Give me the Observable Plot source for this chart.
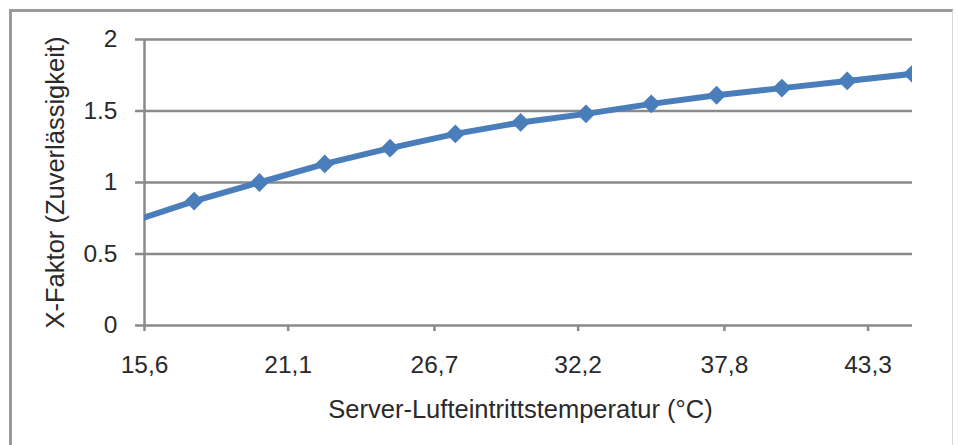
<!DOCTYPE html>
<html>
<head>
<meta charset="utf-8">
<script src="https://cdn.jsdelivr.net/npm/d3@7"></script>
<script src="https://cdn.jsdelivr.net/npm/@observablehq/plot@0.6"></script>
<style>
  html, body { margin: 0; padding: 0; background: #fff; overflow: hidden; }
  #wrap { position: relative; width: 958px; height: 445px; overflow: hidden; }
  #frame { position: absolute; left: 9px; top: 9px; width: 940px; height: 460px;
           border-left: 3px solid #9a9a9a; border-top: 3px solid #9a9a9a; border-right: 1px solid #d9d9d9; }
  #chart { position: absolute; left: 0; top: 0; }
</style>
</head>
<body>
<div id="wrap"><div id="frame"></div><div id="chart"></div></div>
<script>
// Data
const temps   = [15, 17.5, 20, 22.5, 25, 27.5, 30, 32.5, 35, 37.5, 40, 42.5, 45];
const xFactor = [0.72, 0.87, 1.00, 1.13, 1.24, 1.34, 1.42, 1.48, 1.55, 1.61, 1.66, 1.71, 1.76];
const xTicks  = [15.6, 21.1, 26.7, 32.2, 37.8, 43.3];
const yTicks  = [0, 0.5, 1, 1.5, 2];
const xTitle  = "Server-Lufteintrittstemperatur (°C)";
const yTitle  = "X-Faktor (Zuverlässigkeit)";

const data = temps.map((t, i) => ({t, f: xFactor[i]}));
const gray = "#8a8a8a";
const blue = "#4a7ebb";
const textColor = "#2a2a2a";

const chart = Plot.plot({
  width: 958,
  height: 445,
  marginLeft: 144,
  marginRight: 46,
  marginTop: 39,
  marginBottom: 120,
  style: {fontFamily: "'Liberation Sans', Arial, sans-serif", fontSize: "24.5px", color: textColor, background: "transparent"},
  x: {domain: [15.6, 45], ticks: xTicks},
  y: {domain: [0, 2], ticks: yTicks},
  marks: [
    Plot.ruleY(yTicks, {stroke: gray, strokeWidth: 2.5, strokeOpacity: 1}),
    Plot.axisY({ticks: yTicks, tickSize: 9, tickPadding: 18, stroke: gray, strokeWidth: 2.5, strokeOpacity: 1,
                tickFormat: d => String(d), label: null, fill: textColor, fontSize: 24.5}),
    Plot.axisX({ticks: xTicks, tickSize: 6, tickPadding: 24, stroke: gray, strokeWidth: 2.5, strokeOpacity: 1,
                tickFormat: d => d.toFixed(1).replace(".", ","), label: null, fill: textColor, fontSize: 24.5}),
    Plot.ruleX([15.6], {y1: 0, y2: 2, stroke: gray, strokeWidth: 2.5}),
    Plot.line(data, {x: "t", y: "f", stroke: blue, strokeWidth: 6, clip: true}),
    Plot.dot(data, {x: "t", y: "f", symbol: "square", rotate: 45, r: 7.5, fill: blue, stroke: null, clip: true}),
    Plot.text([xTitle], {frameAnchor: "bottom", dy: 84, dx: -8, lineAnchor: "middle", fill: textColor, fontSize: 25.5}),
    Plot.text([yTitle], {frameAnchor: "left", dx: -89, rotate: -90, textAnchor: "middle", lineAnchor: "middle", fill: textColor, fontSize: 25.5})
  ]
});
document.getElementById("chart").appendChild(chart);
</script>
</body>
</html>
